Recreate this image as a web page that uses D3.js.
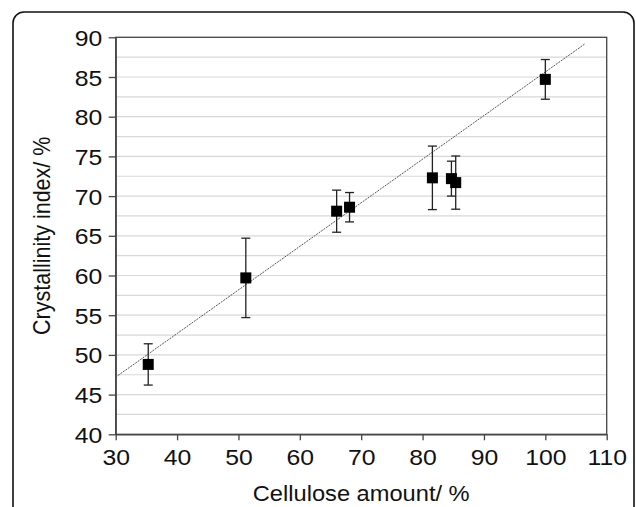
<!DOCTYPE html>
<html>
<head>
<meta charset="utf-8">
<script src="https://cdnjs.cloudflare.com/ajax/libs/d3/7.8.5/d3.min.js"></script>
<style>
  body { margin: 0; background: #fff; }
  svg text { font-family: "Liberation Sans", Arial, sans-serif; fill: #111; }
  .grid line { stroke: #d8d8d8; stroke-width: 1.2; }
  .axis path, .axis line { stroke: #444; stroke-width: 1.3; }
</style>
</head>
<body>
<div id="chart"></div>
<script>
// cellulose amount (%) vs crystallinity index (%), with error (+/-)
var cellulose   = [35.3, 51.2, 66.0, 68.1, 81.6, 84.7, 85.4, 100.0];
var crystal     = [48.8, 59.7, 68.1, 68.6, 72.3, 72.2, 71.7, 84.7];
var crystalErr  = [2.6, 5.0, 2.65, 1.85, 4.0, 2.2, 3.35, 2.5];

// linear fit drawn over the data
var fitRange = [30, 106.5];
var fitIntercept = 47.2;   // value at x = 30
var fitSlope = 0.549;

var xTicks = [30, 40, 50, 60, 70, 80, 90, 100, 110];
var yTicks = [40, 45, 50, 55, 60, 65, 70, 75, 80, 85, 90];
var yGrid  = d3.range(42.5, 90, 2.5);

var width = 636, height = 507;
var margin = { left: 115.7, right: 636 - 606.7, top: 37.3, bottom: 507 - 434.3 };
var tickFs = 22.5, titleFs = 21.5, stretch = 1.1; // source picture is a little wider than tall

var svg = d3.select("#chart").append("svg")
  .attr("width", width)
  .attr("height", height);

// rounded outer frame (bottom runs off the picture)
svg.append("rect")
  .attr("x", 13).attr("y", 12)
  .attr("width", 621).attr("height", 540)
  .attr("rx", 11).attr("ry", 11)
  .attr("fill", "none")
  .attr("stroke", "#111")
  .attr("stroke-width", 1.6);

var x = d3.scaleLinear().domain([30, 110]).range([margin.left, width - margin.right]);
var y = d3.scaleLinear().domain([40, 90]).range([height - margin.bottom, margin.top]);

// horizontal grid
svg.append("g").attr("class", "grid")
  .selectAll("line").data(yGrid).enter().append("line")
  .attr("x1", x(30)).attr("x2", x(110))
  .attr("y1", function(d){ return y(d); })
  .attr("y2", function(d){ return y(d); });

// frame top / right
svg.append("rect")
  .attr("x", x(30)).attr("y", y(90))
  .attr("width", x(110) - x(30)).attr("height", y(40) - y(90))
  .attr("fill", "none").attr("stroke", "#444").attr("stroke-width", 1.3);

// axes
svg.append("g").attr("class", "axis x")
  .attr("transform", "translate(0," + y(40) + ")")
  .call(d3.axisBottom(x).tickValues(xTicks).tickSize(6).tickSizeOuter(0));
svg.append("g").attr("class", "axis y")
  .attr("transform", "translate(" + x(30) + ",0)")
  .call(d3.axisLeft(y).tickValues(yTicks).tickSize(7).tickSizeOuter(0));

svg.selectAll(".axis text")
  .attr("font-size", tickFs)
  .attr("font-family", "Liberation Sans, Arial, sans-serif")
  .attr("fill", "#111");
svg.selectAll(".axis.x text")
  .attr("y", 0).attr("dy", null)
  .attr("transform", "translate(0,31) scale(" + stretch + ",1)");
svg.selectAll(".axis.y text")
  .attr("x", 0).attr("dy", null)
  .attr("transform", "translate(-13.5,8) scale(" + stretch + ",1)");

// fit line
svg.append("line")
  .attr("x1", x(fitRange[0]))
  .attr("y1", y(fitIntercept))
  .attr("x2", x(fitRange[1]))
  .attr("y2", y(fitIntercept + fitSlope * (fitRange[1] - fitRange[0])))
  .attr("stroke", "#555")
  .attr("stroke-width", 1)
  .attr("stroke-dasharray", "2,1");

var pts = cellulose.map(function(c, i){ return { x: c, y: crystal[i], e: crystalErr[i] }; });

// error bars
var eb = svg.append("g").attr("stroke", "#222").attr("stroke-width", 1.3);
eb.selectAll(".v").data(pts).enter().append("line")
  .attr("x1", function(d){ return x(d.x); })
  .attr("x2", function(d){ return x(d.x); })
  .attr("y1", function(d){ return y(d.y + d.e); })
  .attr("y2", function(d){ return y(d.y - d.e); });
eb.selectAll(".t").data(pts).enter().append("line")
  .attr("x1", function(d){ return x(d.x) - 4.5; })
  .attr("x2", function(d){ return x(d.x) + 4.5; })
  .attr("y1", function(d){ return y(d.y + d.e); })
  .attr("y2", function(d){ return y(d.y + d.e); });
eb.selectAll(".b").data(pts).enter().append("line")
  .attr("x1", function(d){ return x(d.x) - 4.5; })
  .attr("x2", function(d){ return x(d.x) + 4.5; })
  .attr("y1", function(d){ return y(d.y - d.e); })
  .attr("y2", function(d){ return y(d.y - d.e); });

// square markers
var sq = 11;
svg.append("g").selectAll("rect").data(pts).enter().append("rect")
  .attr("x", function(d){ return x(d.x) - sq / 2; })
  .attr("y", function(d){ return y(d.y) - sq / 2; })
  .attr("width", sq).attr("height", sq)
  .attr("fill", "#000");

// axis titles
svg.append("text")
  .attr("transform", "translate(" + ((x(30) + x(110)) / 2) + ",501) scale(" + stretch + ",1)")
  .attr("text-anchor", "middle")
  .attr("font-size", titleFs)
  .text("Cellulose amount/ %");

svg.append("text")
  .attr("transform", "translate(50," + ((y(40) + y(90)) / 2) + ") rotate(-90) scale(1," + stretch + ")")
  .attr("text-anchor", "middle")
  .attr("font-size", titleFs)
  .text("Crystallinity index/ %");
</script>
</body>
</html>
